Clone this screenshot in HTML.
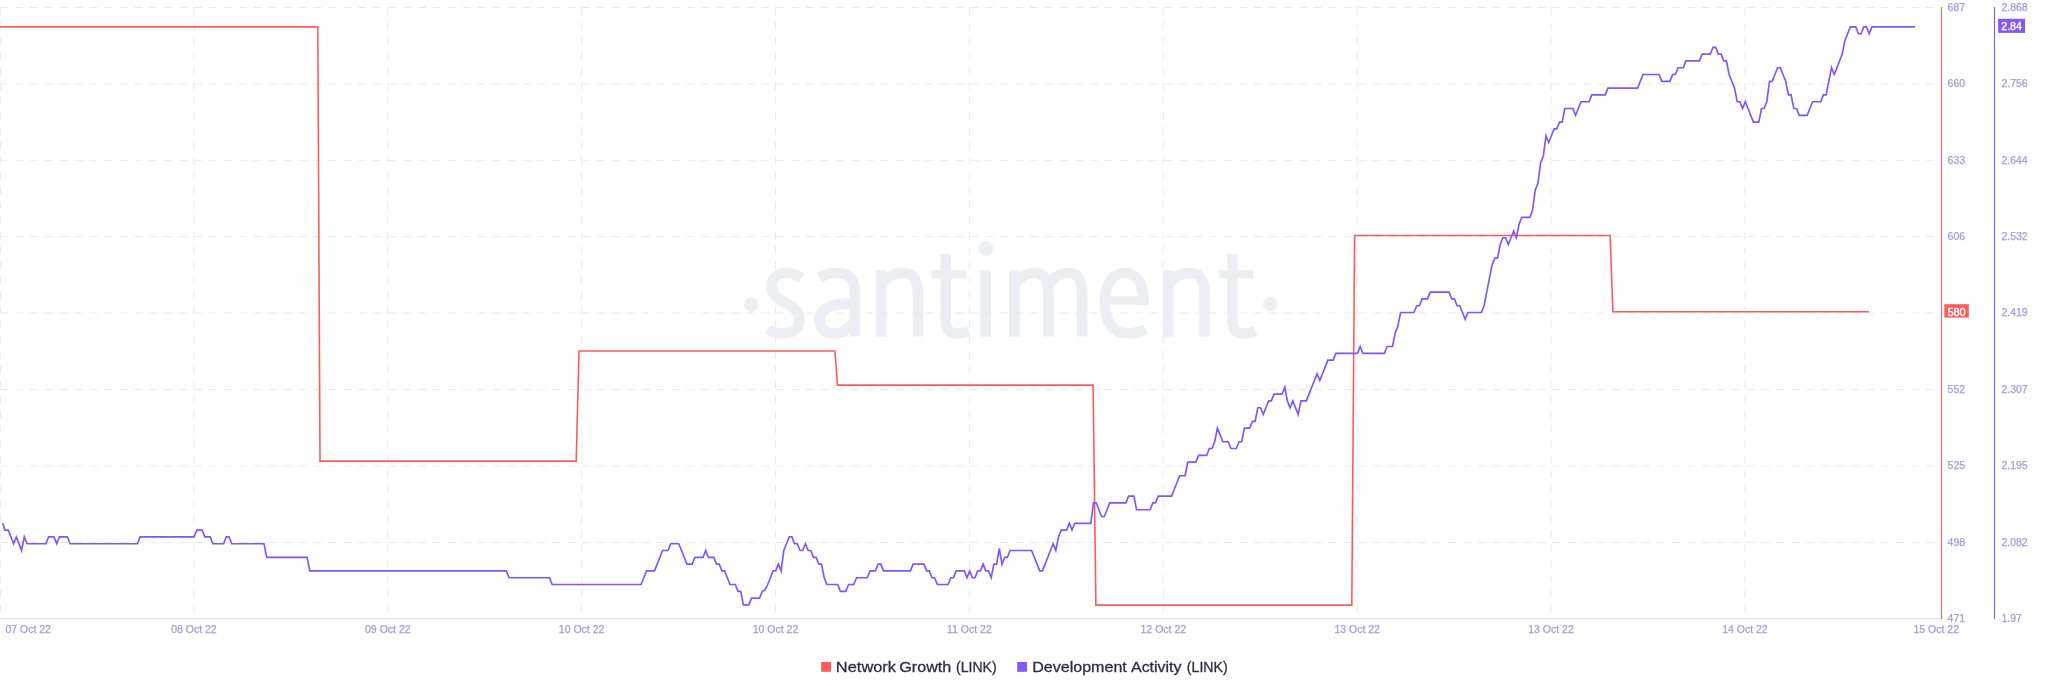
<!DOCTYPE html>
<html><head><meta charset="utf-8"><title>chart</title>
<style>
html,body{margin:0;padding:0;background:#fff;}
body{width:2048px;height:693px;overflow:hidden;font-family:"Liberation Sans",sans-serif;}
svg{display:block;}
text{font-family:"Liberation Sans",sans-serif;}
</style></head><body>
<svg width="2048" height="693" viewBox="0 0 2048 693">
<defs><filter id="idf" x="0" y="0" width="100%" height="100%" filterUnits="userSpaceOnUse" color-interpolation-filters="sRGB"><feOffset dx="0" dy="0"/></filter></defs>
<rect width="2048" height="693" fill="#ffffff"/>
<!-- watermark -->
<g fill="none" stroke="#ededf4" stroke-width="10.5" stroke-linejoin="round">
<path d="M801.5,278 C797,274.5 791.5,273 786,273 C777,273 771.5,278.5 771.5,286 C771.5,295 778,299 786,303 C794,307 799.4,311 799.4,319.5 C799.4,328.5 793,333.4 783.5,333.4 C777,333.4 771.5,331.8 767.5,329"/>
<path d="M819.5,277.5 C825,274.5 831,273 838,273 C849,273 854.6,279.5 854.6,291 V336.6"/>
<path d="M854.6,302.5 C849,303 844,303.5 838,304.5 C826,306.5 819.6,311.5 819.6,320 C819.6,328.5 825.5,333.4 834,333.4 C843,333.4 850,328 854.6,320"/>
<path d="M881.3,270.2 V336.6"/>
<path d="M881.3,286 C885.0,278 893.4,272.9 903.3,272.9 C913.6,272.9 918.0,280 918.0,295 V336.6"/>
<path d="M945.8,254 V321 C945.8,330 950.3,333.5 957.3,333.5 C961.3,333.5 965.3,332.8 968.8,331.3"/>
<path d="M985.6,270.2 V336.6"/>
<path d="M1014.5,270.2 V336.6"/>
<path d="M1014.5,286 C1017.9,278 1025.7,272.9 1034.9,272.9 C1044.4,272.9 1048.5,280 1048.5,295 V336.6"/>
<path d="M1048.5,286 C1051.9,278 1059.6,272.9 1068.7,272.9 C1078.2,272.9 1082.2,280 1082.2,295 V336.6"/>
<path d="M1143.3,304.7 V300.5 C1143.3,283 1137,273 1124.5,273 C1111.5,273 1104.9,285 1104.9,303 C1104.9,322 1113,333.4 1127,333.4 C1134,333.4 1140,332 1145.8,329.2"/>
<path d="M1168.2,270.2 V336.6"/>
<path d="M1168.2,286 C1171.8,278 1180.2,272.9 1190.0,272.9 C1200.2,272.9 1204.6,280 1204.6,295 V336.6"/>
<path d="M1232.4,254 V321 C1232.4,330 1236.9,333.5 1243.9,333.5 C1247.9,333.5 1251.9,332.8 1255.4,331.3"/>
</g>
<g fill="#ededf4">
<rect x="931.7" y="270.2" width="34.8" height="8.3"/>
<rect x="1218.8" y="270.2" width="34.3" height="8.3"/>
<rect x="1104" y="296.4" width="44.5" height="8.3"/>
<circle cx="986" cy="248.6" r="7.1"/>
<circle cx="751.2" cy="304.8" r="7.1"/>
<circle cx="1270.2" cy="303.9" r="7.1"/>
</g>
<!-- grid -->
<g stroke="#e9e9f3" stroke-width="1" stroke-dasharray="7.8 7.13" fill="none">
<path d="M0,7.50 H1935"/>
<path d="M0,83.90 H1935"/>
<path d="M0,160.30 H1935"/>
<path d="M0,236.50 H1935"/>
<path d="M0,313.00 H1935"/>
<path d="M0,389.50 H1935"/>
<path d="M0,466.00 H1935"/>
<path d="M0,542.50 H1935"/>
<path d="M0.35,7.5 V618"/>
<path d="M193.88,7.5 V618"/>
<path d="M387.76,7.5 V618"/>
<path d="M581.64,7.5 V618"/>
<path d="M775.52,7.5 V618"/>
<path d="M969.40,7.5 V618"/>
<path d="M1163.28,7.5 V618"/>
<path d="M1357.16,7.5 V618"/>
<path d="M1551.04,7.5 V618"/>
<path d="M1744.92,7.5 V618"/>
</g>
<path d="M0,618.6 H1941.5" stroke="#e4e3f0" stroke-width="1.1" fill="none"/>
<!-- series -->
<path d="M0,26.9 L317.8,26.9 L320,461.1 L576.2,461.1 L579,351.05 L834.9,351.05 L837.5,385.1 L1093.1,385.1 L1095.9,605.15 L1351.8,605.15 L1354.6,235.5 L1610.1,235.5 L1612.9,311.8 L1868.9,311.8" stroke="#ff5b5b" stroke-width="1.6" fill="none" stroke-linejoin="miter"/>
<path d="M2.8,523.3 L4.8,530.1 L8.2,530.1 L10.9,536.9 L13.6,543.7 L16.3,536.9 L19.0,543.7 L21.6,550.5 L24.3,536.9 L27.0,543.7 L45.9,543.7 L48.6,536.9 L54.0,536.9 L56.7,543.7 L59.4,536.9 L67.4,536.9 L70.1,543.7 L137.5,543.7 L140.1,536.9 L194.0,536.9 L196.7,530.1 L202.1,530.1 L204.8,536.9 L210.2,536.9 L212.9,543.7 L223.6,543.7 L226.3,536.9 L229.0,536.9 L231.7,543.7 L264.0,543.7 L266.7,557.3 L307.1,557.3 L309.8,570.9 L506.4,570.9 L509.1,577.7 L549.5,577.7 L552.2,584.5 L641.1,584.5 L643.8,577.7 L646.5,570.9 L654.5,570.9 L657.2,564.1 L659.9,557.3 L662.6,550.5 L668.0,550.5 L670.7,543.7 L678.8,543.7 L681.5,550.5 L684.2,557.3 L686.9,564.1 L692.3,564.1 L694.9,557.3 L703.0,557.3 L705.7,550.5 L708.4,557.3 L713.8,557.3 L716.5,564.1 L719.2,564.1 L721.9,570.9 L724.6,570.9 L727.3,577.7 L730.0,584.5 L735.3,584.5 L738.0,591.3 L740.7,591.3 L743.4,604.9 L748.8,604.9 L751.5,598.1 L759.6,598.1 L762.3,591.3 L765.0,589.9 L767.7,584.5 L770.4,577.7 L773.0,570.9 L775.7,570.9 L778.4,564.1 L781.1,570.9 L783.8,550.5 L786.5,543.7 L789.2,536.9 L791.9,536.9 L794.6,543.7 L797.3,543.7 L800.0,550.5 L802.7,550.5 L805.4,543.7 L808.1,550.5 L810.8,550.5 L813.4,557.3 L816.1,557.3 L818.8,564.1 L821.5,564.1 L824.2,577.7 L826.9,584.5 L837.7,584.5 L840.4,591.3 L845.8,591.3 L848.5,584.5 L853.8,584.5 L856.5,577.7 L867.3,577.7 L870.0,570.9 L875.4,570.9 L878.1,564.1 L880.8,564.1 L883.5,570.9 L910.4,570.9 L913.1,564.1 L923.9,564.1 L926.6,570.9 L929.3,570.9 L931.9,577.7 L934.6,577.7 L937.3,584.5 L948.1,584.5 L950.8,577.7 L953.5,577.7 L956.2,570.9 L964.3,570.9 L967.0,577.7 L969.7,570.9 L972.3,577.7 L975.0,577.7 L977.7,570.9 L980.4,570.9 L983.1,564.1 L985.8,570.9 L988.5,570.9 L991.2,577.7 L993.9,564.1 L996.6,564.1 L999.3,548.5 L1002.0,564.1 L1004.7,557.3 L1007.4,557.3 L1010.1,550.5 L1031.6,550.5 L1034.3,557.3 L1037.0,564.1 L1039.7,570.9 L1042.4,570.9 L1045.1,564.1 L1047.8,557.3 L1050.4,550.5 L1053.1,543.7 L1055.8,550.5 L1058.5,536.9 L1061.2,530.1 L1066.6,530.1 L1069.3,523.3 L1072.0,530.1 L1074.7,523.3 L1090.8,523.3 L1093.5,502.9 L1096.2,502.9 L1098.9,509.7 L1101.6,516.5 L1104.3,516.5 L1107.0,509.7 L1109.7,502.9 L1125.9,502.9 L1128.6,496.1 L1133.9,496.1 L1136.6,509.7 L1150.1,509.7 L1152.8,502.9 L1155.5,502.9 L1158.2,496.1 L1171.6,496.1 L1174.3,489.3 L1177.0,482.5 L1179.7,475.7 L1185.1,475.7 L1187.8,462.1 L1195.9,462.1 L1198.6,455.3 L1206.7,455.3 L1209.3,448.5 L1212.0,448.5 L1214.7,441.7 L1217.4,428.1 L1220.1,434.9 L1222.8,441.7 L1228.2,441.7 L1230.9,448.5 L1236.3,448.5 L1239.0,441.7 L1241.7,441.7 L1244.4,428.1 L1249.7,428.1 L1252.4,421.3 L1255.1,421.3 L1257.8,407.7 L1260.5,407.7 L1263.2,414.5 L1265.9,407.7 L1268.6,400.9 L1271.3,400.9 L1274.0,394.1 L1282.1,394.1 L1284.8,387.3 L1287.4,400.9 L1290.1,407.7 L1292.8,400.9 L1295.5,407.7 L1298.2,414.5 L1300.9,400.9 L1306.3,400.9 L1309.0,394.1 L1311.7,387.3 L1314.4,380.5 L1317.1,373.7 L1319.8,380.5 L1322.5,373.7 L1325.2,366.9 L1327.8,360.1 L1333.2,360.1 L1335.9,353.3 L1357.5,353.3 L1360.2,346.5 L1362.9,353.3 L1384.4,353.3 L1387.1,346.5 L1392.5,346.5 L1395.2,332.9 L1397.9,326.1 L1400.6,312.5 L1414.0,312.5 L1416.7,305.7 L1419.4,305.7 L1422.1,298.9 L1427.5,298.9 L1430.2,292.1 L1449.0,292.1 L1451.7,298.9 L1454.4,298.9 L1457.1,305.7 L1459.8,305.7 L1462.5,312.5 L1465.2,319.3 L1467.9,312.5 L1481.4,312.5 L1484.1,305.7 L1486.7,292.1 L1489.4,278.5 L1492.1,264.9 L1494.8,258.1 L1497.5,258.1 L1500.2,244.5 L1502.9,237.7 L1505.6,237.7 L1508.3,244.5 L1511.0,237.7 L1513.7,230.9 L1516.4,237.7 L1519.1,224.1 L1521.8,217.3 L1529.8,217.3 L1532.5,210.5 L1535.2,190.1 L1537.9,183.3 L1540.6,162.9 L1543.3,156.1 L1546.0,135.7 L1548.7,142.5 L1551.4,135.7 L1554.1,128.9 L1556.8,128.9 L1559.5,122.1 L1562.2,122.1 L1564.8,108.5 L1572.9,108.5 L1575.6,115.3 L1578.3,108.5 L1581.0,101.7 L1589.1,101.7 L1591.8,94.9 L1605.2,94.9 L1607.9,88.1 L1637.6,88.1 L1640.3,81.3 L1643.0,74.5 L1659.1,74.5 L1661.8,81.3 L1669.9,81.3 L1672.6,74.5 L1675.3,74.5 L1678.0,67.7 L1683.3,67.7 L1686.0,60.9 L1699.5,60.9 L1702.2,54.1 L1710.3,54.1 L1713.0,47.3 L1715.7,47.3 L1718.4,54.1 L1721.1,54.1 L1723.7,60.9 L1726.4,60.9 L1729.1,74.5 L1731.8,81.3 L1734.5,88.1 L1737.2,101.7 L1739.9,101.7 L1742.6,108.5 L1745.3,101.7 L1748.0,108.5 L1750.7,115.3 L1753.4,122.1 L1758.8,122.1 L1761.5,108.5 L1764.1,108.5 L1766.8,101.7 L1769.5,81.3 L1772.2,81.3 L1774.9,74.5 L1777.6,67.7 L1780.3,67.7 L1783.0,74.5 L1785.7,81.3 L1788.4,94.9 L1791.1,94.9 L1793.8,108.5 L1796.5,108.5 L1799.2,115.3 L1807.2,115.3 L1809.9,108.5 L1812.6,101.7 L1820.7,101.7 L1823.4,94.9 L1826.1,94.9 L1828.8,81.3 L1831.5,67.7 L1834.2,74.5 L1836.9,67.7 L1839.6,60.9 L1842.2,54.1 L1844.9,40.5 L1847.6,33.7 L1850.3,26.9 L1855.7,26.9 L1858.4,33.7 L1861.1,33.7 L1863.8,26.9 L1866.5,26.9 L1869.2,33.7 L1871.9,26.9 L1915.0,26.9" stroke="#8055ff" stroke-width="1.65" fill="none" stroke-linejoin="miter"/>
<!-- axes -->
<path d="M1941.5,7 V619" stroke="#ff5b5b" stroke-width="1.1"/>
<path d="M1994.5,7 V619" stroke="#8358ff" stroke-width="1.1"/>
<g font-size="10.5" fill="#a39be1" stroke="#a39be1" stroke-width="0.25" filter="url(#idf)">
<text x="5.4" y="633" text-anchor="start">07 Oct 22</text>
<text x="193.9" y="633" text-anchor="middle">08 Oct 22</text>
<text x="387.8" y="633" text-anchor="middle">09 Oct 22</text>
<text x="581.6" y="633" text-anchor="middle">10 Oct 22</text>
<text x="775.5" y="633" text-anchor="middle">10 Oct 22</text>
<text x="969.4" y="633" text-anchor="middle">11 Oct 22</text>
<text x="1163.3" y="633" text-anchor="middle">12 Oct 22</text>
<text x="1357.2" y="633" text-anchor="middle">13 Oct 22</text>
<text x="1551.0" y="633" text-anchor="middle">13 Oct 22</text>
<text x="1744.9" y="633" text-anchor="middle">14 Oct 22</text>
<text x="1959" y="633" text-anchor="end">15 Oct 22</text>
<text x="1947.6" y="10.9">687</text>
<text x="2001.4" y="10.9">2.868</text>
<text x="1947.6" y="87.3">660</text>
<text x="2001.4" y="87.3">2.756</text>
<text x="1947.6" y="163.7">633</text>
<text x="2001.4" y="163.7">2.644</text>
<text x="1947.6" y="239.9">606</text>
<text x="2001.4" y="239.9">2.532</text>
<text x="2001.4" y="316.4">2.419</text>
<text x="1947.6" y="392.9">552</text>
<text x="2001.4" y="392.9">2.307</text>
<text x="1947.6" y="469.4">525</text>
<text x="2001.4" y="469.4">2.195</text>
<text x="1947.6" y="545.9">498</text>
<text x="2001.4" y="545.9">2.082</text>
<text x="1947.6" y="621.9">471</text>
<text x="2001.4" y="621.9">1.97</text>
</g>
<g filter="url(#idf)">
<!-- badges -->
<rect x="1944.3" y="304.2" width="24.5" height="13.4" fill="#ff5b5b"/>
<text x="1947.4" y="315.5" font-size="10" fill="#fff" stroke="#fff" stroke-width="0.35" textLength="18.3" lengthAdjust="spacingAndGlyphs">580</text>
<rect x="1998.1" y="18.8" width="26.9" height="14.1" fill="#8358ff"/>
<text x="2001.3" y="29.9" font-size="10" fill="#fff" stroke="#fff" stroke-width="0.35" textLength="20.6" lengthAdjust="spacingAndGlyphs">2.84</text>
<!-- legend -->
<rect x="821.2" y="662" width="9.8" height="9.8" fill="#ff5b5b"/>
<text x="835.86" y="671.8" font-size="14.6" fill="#2b2f47" stroke="#2b2f47" stroke-width="0.3" textLength="60.19" lengthAdjust="spacingAndGlyphs">Network</text>
<text x="899.30" y="671.8" font-size="14.6" fill="#2b2f47" stroke="#2b2f47" stroke-width="0.3" textLength="51.90" lengthAdjust="spacingAndGlyphs">Growth</text>
<text x="956.00" y="671.8" font-size="14.6" fill="#2b2f47" stroke="#2b2f47" stroke-width="0.3" textLength="40.70" lengthAdjust="spacingAndGlyphs">(LINK)</text>
<text x="1032.25" y="671.8" font-size="14.6" fill="#2b2f47" stroke="#2b2f47" stroke-width="0.3" textLength="94.55" lengthAdjust="spacingAndGlyphs">Development</text>
<text x="1131.00" y="671.8" font-size="14.6" fill="#2b2f47" stroke="#2b2f47" stroke-width="0.3" textLength="50.50" lengthAdjust="spacingAndGlyphs">Activity</text>
<text x="1186.80" y="671.8" font-size="14.6" fill="#2b2f47" stroke="#2b2f47" stroke-width="0.3" textLength="40.90" lengthAdjust="spacingAndGlyphs">(LINK)</text>
<rect x="1017.2" y="662" width="9.8" height="9.8" fill="#8358ff"/>

</g>
</svg>
</body></html>
